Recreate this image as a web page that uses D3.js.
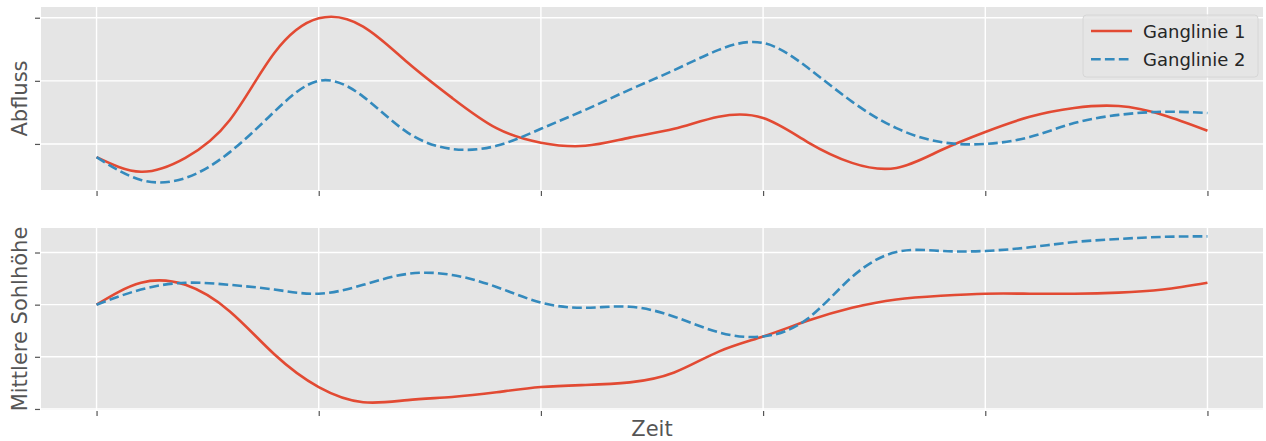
<!DOCTYPE html>
<html>
<head>
<meta charset="utf-8">
<script src="https://cdn.jsdelivr.net/npm/d3@7"></script>
<style>
  html, body { margin: 0; padding: 0; background: #fff; }
  svg { display: block; font-family: "DejaVu Sans", sans-serif; }
</style>
</head>
<body>
<svg id="chart" width="1266" height="441"></svg>
<script>
// Zeitachse (gemeinsam für beide Teildiagramme)
const zeit = [0, 0.2, 0.4, 0.6, 0.8, 1.0, 1.2, 1.4, 1.6, 1.8, 2.0, 2.2, 2.4,
              2.6, 2.8, 3.0, 3.2, 3.4, 3.6, 3.8, 4.0, 4.2, 4.4, 4.6, 4.8, 5.0];

// Abfluss
const abfluss1 = [0.79, 0.56, 0.78, 1.38, 2.44, 2.99, 2.86, 2.29, 1.73, 1.25, 1.02, 0.97, 1.10,
                  1.24, 1.43, 1.41, 1.03, 0.70, 0.62, 0.90, 1.19, 1.43, 1.57, 1.60, 1.46, 1.21];
const abfluss2 = [0.79, 0.43, 0.46, 0.87, 1.51, 2.00, 1.75, 1.18, 0.92, 0.97, 1.24, 1.54, 1.86,
                  2.17, 2.49, 2.60, 2.21, 1.67, 1.25, 1.03, 1.00, 1.11, 1.33, 1.46, 1.51, 1.49];

// Mittlere Sohlhöhe
const sohle1 = [2.00, 2.42, 2.38, 1.87, 1.05, 0.42, 0.13, 0.17, 0.23, 0.32, 0.42, 0.46, 0.51,
                0.70, 1.10, 1.39, 1.69, 1.94, 2.10, 2.17, 2.21, 2.21, 2.21, 2.23, 2.29, 2.42];
const sohle2 = [2.00, 2.29, 2.42, 2.38, 2.29, 2.21, 2.38, 2.59, 2.57, 2.34, 2.04, 1.94, 1.96,
                1.77, 1.47, 1.39, 1.73, 2.53, 3.01, 3.03, 3.03, 3.10, 3.20, 3.26, 3.30, 3.31];

// Ticks (ohne Beschriftung)
const xTicks = [0, 1, 2, 3, 4, 5];
const abflussTicks = [1, 2, 3];
const sohleTicks = [0, 1, 2, 3];

// Achsengrenzen
const xLimits = [-0.25, 5.25];
const abflussLimits = [0.27, 3.17];
const sohleLimits = [-0.02, 3.47];

const seriesNames = ["Ganglinie 1", "Ganglinie 2"];
const colors = ["#E24A33", "#348ABD"];
const dashes = [null, "9.7,4.2"];

const svg = d3.select("#chart");
const left = 41, right = 1263;
const panels = [
  { top: 7,   bottom: 190, limits: abflussLimits, ticks: abflussTicks,
    series: [abfluss1, abfluss2], label: "Abfluss", legend: true },
  { top: 228, bottom: 410, limits: sohleLimits, ticks: sohleTicks,
    series: [sohle1, sohle2], label: "Mittlere Sohlhöhe", legend: false }
];

const x = d3.scaleLinear().domain(xLimits).range([left, right]);

panels.forEach((p, pi) => {
  const y = d3.scaleLinear().domain(p.limits).range([p.bottom, p.top]);
  const g = svg.append("g");

  const clipId = "clip" + pi;
  svg.append("clipPath").attr("id", clipId)
    .append("rect").attr("x", left).attr("y", p.top)
    .attr("width", right - left).attr("height", p.bottom - p.top);

  // Hintergrund
  g.append("rect").attr("x", left).attr("y", p.top)
    .attr("width", right - left).attr("height", p.bottom - p.top)
    .attr("fill", "#E5E5E5");

  // Gitternetz
  const grid = g.append("g").attr("clip-path", `url(#${clipId})`)
    .attr("stroke", "#fff").attr("stroke-width", 1.4);
  grid.selectAll("line.v").data(xTicks).join("line")
    .attr("x1", d => x(d)).attr("x2", d => x(d))
    .attr("y1", p.top).attr("y2", p.bottom);
  grid.selectAll("line.h").data(p.ticks).join("line")
    .attr("x1", left).attr("x2", right)
    .attr("y1", d => y(d)).attr("y2", d => y(d));

  // Achsen: nur Striche, keine Beschriftung
  const xAxis = d3.axisBottom(x).tickValues(xTicks).tickSize(5).tickFormat("");
  const xg = g.append("g").attr("transform", `translate(0,${p.bottom + 1})`).call(xAxis);
  const yAxis = d3.axisLeft(y).tickValues(p.ticks).tickSize(5).tickFormat("");
  const yg = g.append("g").attr("transform", `translate(${left - 1},0)`).call(yAxis);
  [xg, yg].forEach(a => {
    a.select(".domain").remove();
    a.selectAll(".tick line").attr("stroke", "#555").attr("stroke-width", 1.2);
  });

  // Kurven
  const line = d3.line()
    .x((d, i) => x(zeit[i]))
    .y(d => y(d))
    .curve(d3.curveNatural);
  const lines = g.append("g").attr("clip-path", `url(#${clipId})`);
  p.series.forEach((s, si) => {
    lines.append("path").datum(s)
      .attr("d", line)
      .attr("fill", "none")
      .attr("stroke", colors[si])
      .attr("stroke-width", 2.6)
      .attr("stroke-dasharray", dashes[si]);
  });

  // y-Achsenbeschriftung
  g.append("text")
    .attr("transform", `translate(27,${(p.top + p.bottom) / 2}) rotate(-90)`)
    .attr("text-anchor", "middle")
    .attr("font-size", 21)
    .attr("fill", "#555")
    .text(p.label);

  // Legende
  if (p.legend) {
    const lg = g.append("g");
    lg.append("rect")
      .attr("x", 1083).attr("y", 15).attr("width", 175).attr("height", 62)
      .attr("rx", 3.5)
      .attr("fill", "rgba(229,229,229,0.8)")
      .attr("stroke", "#d6d6d6").attr("stroke-width", 1);
    seriesNames.forEach((name, si) => {
      const cy = 31 + si * 28.3;
      lg.append("line")
        .attr("x1", 1091).attr("x2", 1132)
        .attr("y1", cy).attr("y2", cy)
        .attr("stroke", colors[si]).attr("stroke-width", 2.6)
        .attr("stroke-dasharray", dashes[si]);
      lg.append("text")
        .attr("x", 1143).attr("y", cy + 7)
        .attr("font-size", 18)
        .attr("fill", "#262626")
        .text(name);
    });
  }
});

// x-Achsenbeschriftung
svg.append("text")
  .attr("x", (left + right) / 2).attr("y", 436)
  .attr("text-anchor", "middle")
  .attr("font-size", 21)
  .attr("fill", "#555")
  .text("Zeit");
</script>
</body>
</html>
